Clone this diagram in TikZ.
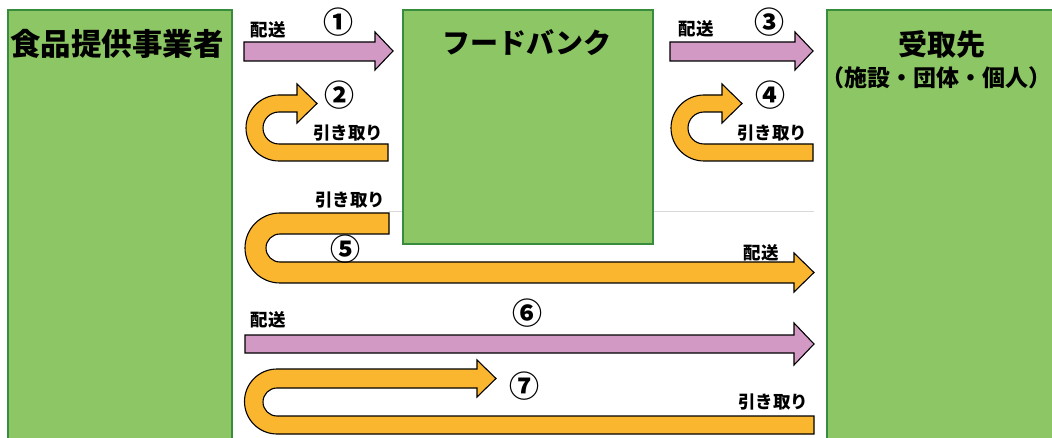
\documentclass[tikz,border=0pt]{standalone}
\usepackage{fontspec}
\setmainfont{Noto Sans CJK JP}
\definecolor{boxfill}{RGB}{141,199,101}
\definecolor{boxline}{RGB}{56,140,62}
\definecolor{purp}{RGB}{210,153,196}
\definecolor{oran}{RGB}{251,182,48}
\definecolor{gline}{RGB}{217,217,217}
\tikzset{
  entity/.style={draw=boxline, line width=2.6pt, fill=boxfill},
  deliver/.style={draw=black, line width=1.1pt, fill=purp, line join=miter},
  pickup/.style={draw=black, line width=1.1pt, fill=oran, line join=miter},
  lbl/.style={inner sep=0pt, font=\bfseries\fontsize{17.5}{17.5}\selectfont},
  num/.style={inner sep=0pt, font=\bfseries\fontsize{30}{30}\selectfont},
  title/.style={inner sep=0pt, font=\bfseries\fontsize{29}{29}\selectfont},
}
\begin{document}
\begin{tikzpicture}[x=1pt,y=-1pt]
\clip (0,0) rectangle (1052,438);
\fill[white] (0,0) rectangle (1052,438);
% separator line
\draw[gline, line width=1pt] (389,212) -- (814,212);
% boxes
\path[entity] (8,10) rectangle (232,460);
\path[entity] (403,10) rectangle (653,244);
\path[entity] (827,10) rectangle (1070,460);
\node[title, font=\bfseries\fontsize{30.5}{30.5}\selectfont] (prov) at (117,44) {食品提供事業者};
\node[title, font=\bfseries\fontsize{28}{28}\selectfont] (fb) at (527,43) {フードバンク};
\node[title] (rec) at (942,44) {受取先};
\node[inner sep=0pt, font=\bfseries\fontsize{23}{23}\selectfont] (rec2) at (936,78) {（施設・団体・個人）};
% arrow 1
\draw[deliver] (244,42) -- (375,42) -- (375,32) -- (393,51) -- (375,70) -- (375,61) -- (244,61) -- cycle;
\node[lbl] (l1) at (268,30) {配送};
\node[num] (n1) at (338,22) {①};
% arrow 3
\draw[deliver] (670,42) -- (795,42) -- (795,32) -- (813,51) -- (795,70) -- (795,61) -- (670,61) -- cycle;
\node[lbl] (l3) at (696,29) {配送};
\node[num] (n3) at (769,22) {③};
% arrow 2
\draw[pickup] (388,161) -- (279,161) arc[start angle=90, end angle=270, radius=33]
  -- (297,95) -- (297,84) -- (317,103.5) -- (297,123) -- (297,112) -- (279,112)
  arc[start angle=270, end angle=90, radius=16] -- (388,144) -- cycle;
\node[num] (n2) at (339,95) {②};
\node[lbl] (l2) at (348,133) {引き取り};
% arrow 4
\draw[pickup] (813,161) -- (704,161) arc[start angle=90, end angle=270, radius=33]
  -- (722,95) -- (722,84) -- (742,103.5) -- (722,123) -- (722,112) -- (704,112)
  arc[start angle=270, end angle=90, radius=16] -- (813,144) -- cycle;
\node[num] (n4) at (770,95) {④};
\node[lbl] (l4) at (772,133) {引き取り};
% arrow 5
\draw[pickup] (389,213) -- (280,213) arc[start angle=270, end angle=90, radius=35]
  -- (794,283) -- (794,292) -- (814,272.5) -- (794,253) -- (794,262) -- (280,262)
  arc[start angle=90, end angle=270, radius=14] -- (389,234) -- cycle;
\node[lbl] (l5a) at (350,200) {引き取り};
\node[num] (n5) at (345,249) {⑤};
\node[lbl] (l5b) at (761,253) {配送};
% arrow 6
\draw[deliver] (245,335) -- (794,335) -- (794,323) -- (814,344) -- (794,365) -- (794,353) -- (245,353) -- cycle;
\node[lbl] (l6) at (268,320) {配送};
\node[num] (n6) at (527,313) {⑥};
% arrow 7
\draw[pickup] (814,434) -- (277,434) arc[start angle=90, end angle=270, radius=32.5]
  -- (477,369) -- (477,360) -- (496,378.5) -- (477,397) -- (477,388) -- (277,388)
  arc[start angle=270, end angle=90, radius=14] -- (814,416) -- cycle;
\node[num] (n7) at (524,386) {⑦};
\node[lbl] (l7) at (773,402) {引き取り};
\end{tikzpicture}
\end{document}
